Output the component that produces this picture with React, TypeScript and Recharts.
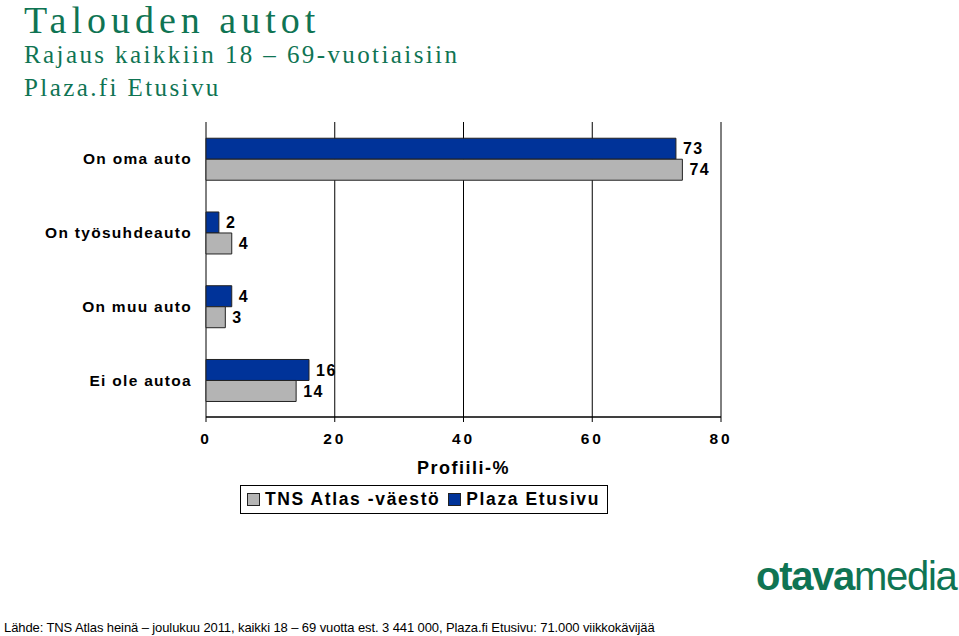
import { BarChart, Bar, XAxis, YAxis, CartesianGrid, LabelList, ReferenceLine } from 'recharts'

const categories = ['On oma auto', 'On työsuhdeauto', 'On muu auto', 'Ei ole autoa']
const plazaValues = [73, 2, 4, 16]
const tnsValues = [74, 4, 3, 14]
const xTicks = [0, 20, 40, 60, 80]
const edgeTicks = [0, 1, 2, 3, 4]

const BLUE = '#003399'
const GRAY = '#b4b4b4'
const GREEN = '#0f7453'
const SANS = '"Liberation Sans", Arial, sans-serif'
const SERIF = '"Liberation Serif", "Times New Roman", serif'

const data = categories.map((name, i) => ({ name, plaza: plazaValues[i], tns: tnsValues[i] }))

export default function App() {
  return (
    <div style={{ position: 'absolute', left: 0, top: 0, width: 959, height: 636, background: '#fff', overflow: 'hidden' }}>
      <div style={{ position: 'absolute', left: 24, top: 1, lineHeight: '38px', color: GREEN, fontFamily: SERIF, fontSize: 38, letterSpacing: 5, whiteSpace: 'nowrap' }}>
        Talouden autot
      </div>
      <div style={{ position: 'absolute', left: 24, top: 40, lineHeight: '30px', color: GREEN, fontFamily: SERIF, fontSize: 25, letterSpacing: 2.4, whiteSpace: 'nowrap' }}>
        Rajaus kaikkiin 18 – 69-vuotiaisiin
      </div>
      <div style={{ position: 'absolute', left: 24, top: 73, lineHeight: '30px', color: GREEN, fontFamily: SERIF, fontSize: 25, letterSpacing: 2.4, whiteSpace: 'nowrap' }}>
        Plaza.fi Etusivu
      </div>

      <div style={{ position: 'absolute', left: 0, top: 0 }}>
        <BarChart
          width={959}
          height={636}
          data={data}
          layout="vertical"
          margin={{ top: 122, right: 238, bottom: 189, left: 6 }}
          barCategoryGap="22%"
          barGap={0}
        >
          <CartesianGrid horizontal={false} stroke="#000" strokeWidth={1} yAxisId="edge" />
          <XAxis
            type="number"
            domain={[0, 80]}
            ticks={xTicks}
            height={30}
            tickSize={5}
            tickMargin={11}
            axisLine={{ stroke: '#000' }}
            tickLine={{ stroke: '#000' }}
            tick={{ fill: '#000', fontSize: 15.5, fontWeight: 'bold', fontFamily: SANS, letterSpacing: 3 }}
          />
          <YAxis
            yAxisId="edge"
            type="number"
            domain={[0, 4]}
            ticks={edgeTicks}
            reversed
            width={0}
            tickSize={6}
            tick={false}
            axisLine={{ stroke: '#000' }}
            tickLine={{ stroke: '#000' }}
          />
          <YAxis
            yAxisId="cat"
            type="category"
            dataKey="name"
            width={200}
            axisLine={false}
            tickLine={false}
            tickSize={6}
            tickMargin={8}
            tick={{ fill: '#000', fontSize: 15.5, fontWeight: 'bold', fontFamily: SANS, letterSpacing: 1.3 }}
          />
          <ReferenceLine yAxisId="edge" y={0} stroke="#000" />
          <Bar yAxisId="cat" dataKey="plaza" fill={BLUE} stroke="#222" strokeWidth={1} isAnimationActive={false}>
            <LabelList dataKey="plaza" position="right" offset={7} style={{ fill: '#000', fontSize: 16, fontWeight: 'bold', fontFamily: SANS, letterSpacing: 1.5 }} />
          </Bar>
          <Bar yAxisId="cat" dataKey="tns" fill={GRAY} stroke="#222" strokeWidth={1} isAnimationActive={false}>
            <LabelList dataKey="tns" position="right" offset={7} style={{ fill: '#000', fontSize: 16, fontWeight: 'bold', fontFamily: SANS, letterSpacing: 1.5 }} />
          </Bar>
        </BarChart>
      </div>

      <div style={{ position: 'absolute', left: 206, width: 515, top: 458, textAlign: 'center', fontFamily: SANS, fontSize: 18, fontWeight: 'bold', letterSpacing: 1.5 }}>
        Profiili-%
      </div>

      <div style={{ position: 'absolute', left: 240, top: 485, width: 368, height: 29, border: '1px solid #000', boxSizing: 'border-box', display: 'flex', alignItems: 'center', fontFamily: SANS, fontSize: 17.5, fontWeight: 'bold', letterSpacing: 1.6, whiteSpace: 'nowrap' }}>
        <span style={{ display: 'inline-block', width: 11, height: 11, background: GRAY, border: '1px solid #222', marginLeft: 6, marginRight: 5 }} />
        <span>TNS Atlas -väestö</span>
        <span style={{ display: 'inline-block', width: 11, height: 11, background: BLUE, border: '1px solid #222', marginLeft: 8, marginRight: 5 }} />
        <span>Plaza Etusivu</span>
      </div>

      <div style={{ position: 'absolute', left: 756, top: 553, lineHeight: '46px', color: GREEN, fontFamily: SANS, fontSize: 40, letterSpacing: -1.3, whiteSpace: 'nowrap' }}>
        <span style={{ fontWeight: 'bold' }}>otava</span>
        <span style={{ fontWeight: 'normal' }}>media</span>
      </div>

      <div style={{ position: 'absolute', left: 4, top: 620, fontFamily: SANS, fontSize: 13, letterSpacing: -0.1, color: '#000', whiteSpace: 'nowrap' }}>
        Lähde: TNS Atlas heinä – joulukuu 2011, kaikki 18 – 69 vuotta est. 3 441 000, Plaza.fi Etusivu: 71.000 viikkokävijää
      </div>
    </div>
  )
}
